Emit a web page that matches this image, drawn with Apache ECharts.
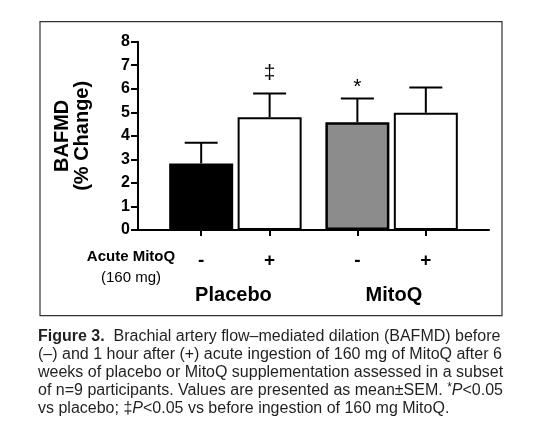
<!DOCTYPE html>
<html>
<head>
<meta charset="utf-8">
<script src="https://cdn.jsdelivr.net/npm/echarts@6/dist/echarts.min.js"></script>
<style>
  html, body { margin: 0; padding: 0; background: #fff; }
  #chart { width: 540px; height: 431px; }
</style>
</head>
<body>
<div id="chart"></div>
<script>
// data
var acuteLabels = ['-', '+', '-', '+'];          // acute MitoQ before / after
var groupNames = ['Placebo', 'MitoQ'];
var xPos = [1.8, 3.75, 6.25, 8.2];               // bar positions on the x scale
var groupPos = [2.72, 7.29];                     // group label positions
var meanVals = [2.83, 4.79, 4.58, 4.98];         // BAFMD % change
var semVals = [0.88, 1.01, 1.01, 1.07];
var sigMarks = ['', '\u2021', '*', ''];
var yTicks = [0, 1, 2, 3, 4, 5, 6, 7, 8];

var barFill = ['#000000', '#ffffff', '#8c8c8c', '#ffffff'];
var barBorder = [2, 2, 2.5, 2];

var chart = echarts.init(document.getElementById('chart'), null, { renderer: 'canvas' });
var FONT = '"Liberation Sans", Arial, Helvetica, sans-serif';

var barData = xPos.map(function (x, i) {
    return {
        value: [x, meanVals[i]],
        itemStyle: { color: barFill[i], borderColor: '#000', borderWidth: barBorder[i] }
    };
});

var errData = xPos.map(function (x, i) {
    return [x, meanVals[i], semVals[i], i];
});

function renderErr(params, api) {
    var x = api.value(0), m = api.value(1), s = api.value(2), idx = api.value(3);
    var base = api.coord([x, m]);
    var top = api.coord([x, m + s]);
    var hw = 16.5;
    var kids = [
        { type: 'line', shape: { x1: base[0], y1: base[1], x2: top[0], y2: top[1] },
          style: { stroke: '#000', lineWidth: 2 } },
        { type: 'line', shape: { x1: top[0] - hw, y1: top[1], x2: top[0] + hw, y2: top[1] },
          style: { stroke: '#000', lineWidth: 2 } }
    ];
    var mark = sigMarks[idx];
    if (mark) {
        var off = mark === '*' ? 11 : 20;     // asterisk sits high in its em box
        kids.push({ type: 'text', x: top[0], y: top[1] - off,
            style: { text: mark, fill: '#000', font: '21px ' + FONT, align: 'center', verticalAlign: 'middle' } });
    }
    return { type: 'group', children: kids };
}

// caption lines
var captionLines = [
    '{b|Figure 3.}  Brachial artery flow\u2013mediated dilation (BAFMD) before',
    '(\u2013) and 1 hour after (+) acute ingestion of 160 mg of MitoQ after 6',
    'weeks of placebo or MitoQ supplementation assessed in a subset',
    'of n=9 participants. Values are presented as mean\u00b1SEM. {s|*}{i|P}<0.05',
    'vs placebo; \u2021{i|P}<0.05 vs before ingestion of 160 mg MitoQ.'
];

var option = {
    animation: false,
    backgroundColor: '#fff',
    grid: { left: 138, right: 51, top: 41.7, bottom: 201, outerBoundsMode: 'none' },
    xAxis: [{
        type: 'value', min: 0, max: 10,
        splitLine: { show: false },
        axisLine: { show: true, lineStyle: { color: '#000', width: 2 } },
        axisTick: { show: true, customValues: xPos, length: 6, lineStyle: { color: '#000', width: 2 } },
        axisLabel: {
            customValues: xPos, margin: 21,
            fontFamily: FONT, fontWeight: 'bold', fontSize: 19, color: '#000',
            formatter: function (v) {
                var i = xPos.indexOf(v);
                return i >= 0 ? acuteLabels[i] : '';
            }
        }
    }, {
        type: 'value', min: 0, max: 10, position: 'bottom',
        splitLine: { show: false },
        axisLine: { show: false }, axisTick: { show: false },
        axisLabel: {
            customValues: groupPos, margin: 55,
            fontFamily: FONT, fontWeight: 'bold', fontSize: 20, color: '#000',
            formatter: function (v) {
                var i = groupPos.indexOf(v);
                return i >= 0 ? groupNames[i] : '';
            }
        }
    }],
    yAxis: {
        type: 'value', min: 0, max: 8, interval: 1,
        splitLine: { show: false },
        axisLine: { show: true, lineStyle: { color: '#000', width: 2 } },
        axisTick: { show: true, length: 7, lineStyle: { color: '#000', width: 2 } },
        axisLabel: {
            margin: 8, fontFamily: FONT, fontWeight: 'bold', fontSize: 16, color: '#000',
            formatter: function (v) { return yTicks.indexOf(v) >= 0 ? String(v) : ''; }
        },
        name: 'BAFMD\n(% Change)',
        nameLocation: 'middle', nameRotate: 90, nameGap: 46,
        nameTextStyle: { fontFamily: FONT, fontWeight: 'bold', fontSize: 20, lineHeight: 20, color: '#000' }
    },
    series: [{
        type: 'bar', xAxisIndex: 0, barWidth: 64,
        data: barData, z: 2
    }, {
        type: 'custom', xAxisIndex: 0, renderItem: renderErr,
        data: errData, z: 3
    }],
    graphic: [{
        type: 'rect', z: 0,
        shape: { x: 40, y: 21.7, width: 462, height: 294 },
        style: { fill: 'none', stroke: '#333', lineWidth: 1.2 }
    }, {
        type: 'text', x: 131, y: 257,
        style: { text: 'Acute MitoQ', font: 'bold 15px ' + FONT, fill: '#000', align: 'center', verticalAlign: 'middle' }
    }, {
        type: 'text', x: 131, y: 278,
        style: { text: '(160 mg)', font: '15px ' + FONT, fill: '#000', align: 'center', verticalAlign: 'middle' }
    }, {
        type: 'text', x: 38, y: 328,
        style: {
            text: captionLines.join('\n'),
            font: '16px ' + FONT, fill: '#231f20', lineHeight: 18,
            rich: {
                b: { fontFamily: FONT, fontWeight: 'bold', fontSize: 16, lineHeight: 18, fill: '#231f20' },
                i: { fontFamily: FONT, fontStyle: 'italic', fontSize: 16, lineHeight: 18, fill: '#231f20' },
                s: { fontFamily: FONT, fontSize: 12, lineHeight: 18, fill: '#231f20', verticalAlign: 'top' }
            }
        }
    }]
};

chart.setOption(option);
</script>
</body>
</html>
